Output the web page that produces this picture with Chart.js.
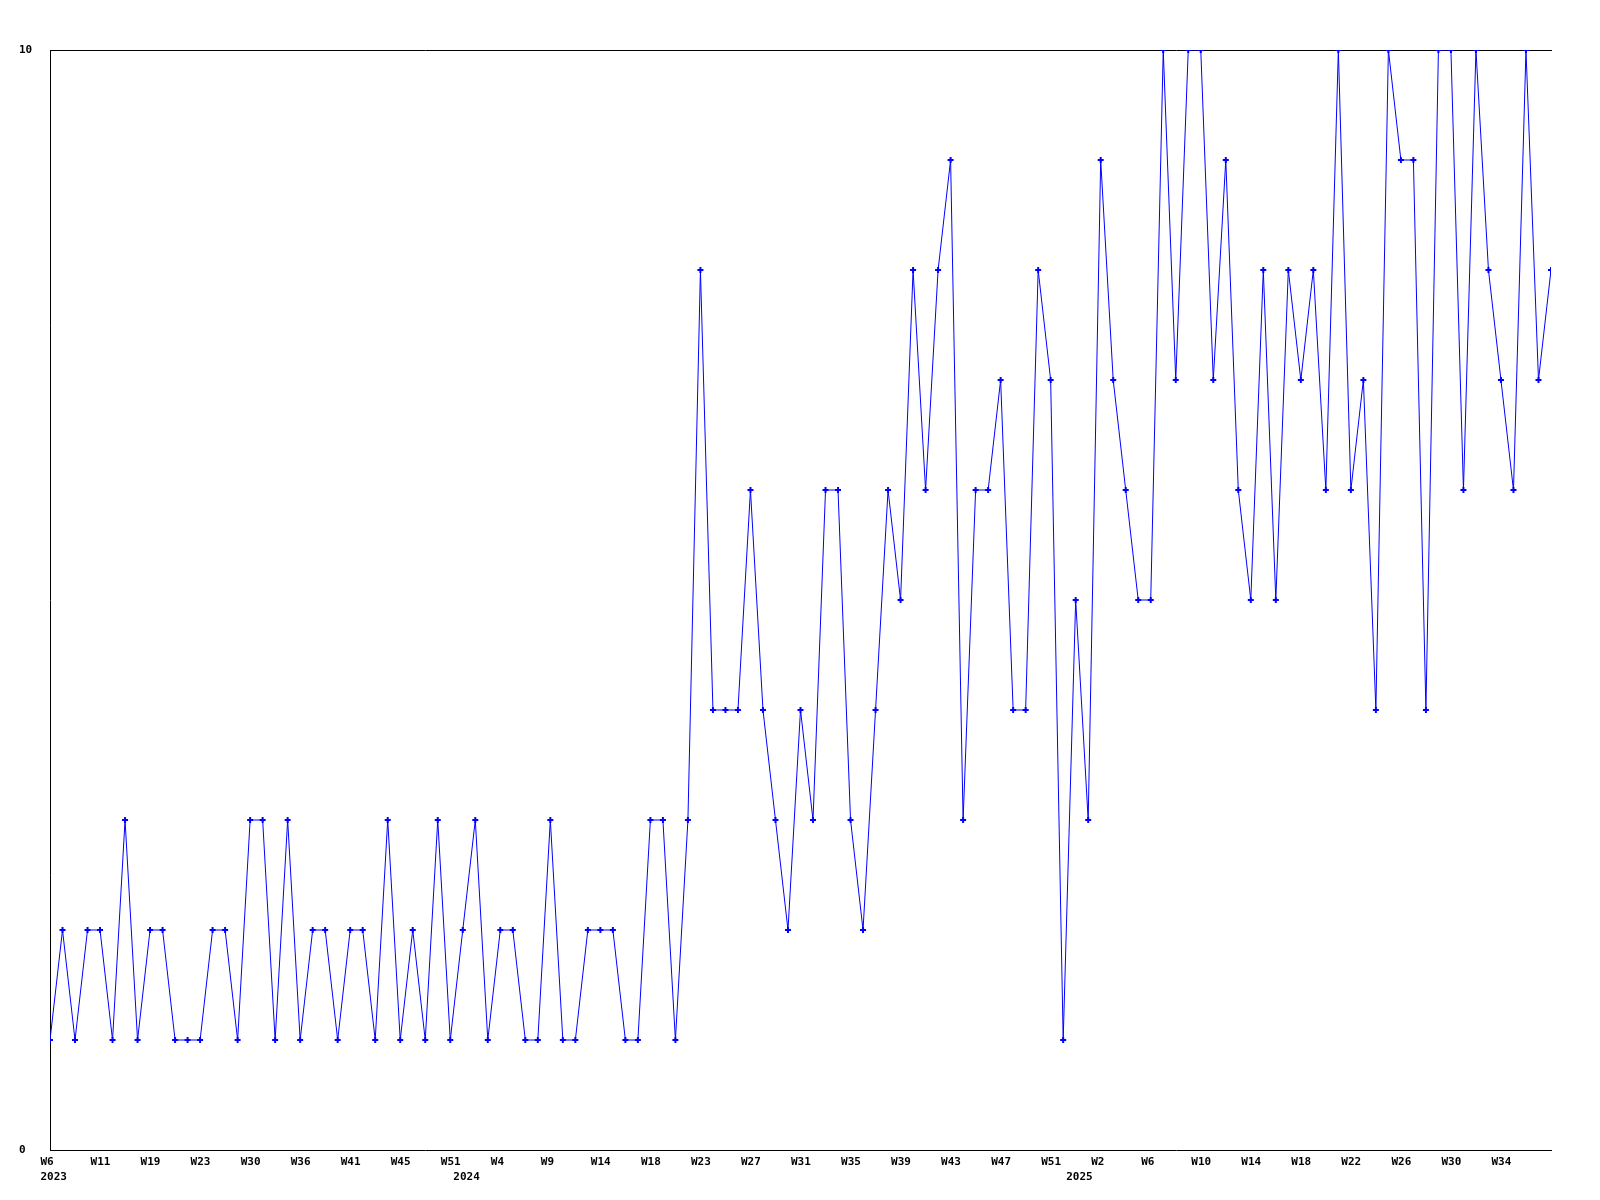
<!DOCTYPE html>
<html><head><meta charset="utf-8">
<script src="https://cdn.jsdelivr.net/npm/chart.js@4.4.1/dist/chart.umd.min.js"></script>
<style>html,body{margin:0;padding:0;background:#fff}#wrap{width:1600px;height:1200px}</style>
</head><body><div id="wrap"><canvas id="c" width="1600" height="1200"></canvas></div>
<script>
// Weekly values (121 points)
const values = [
  1,2,1,2,2,1,3,1,2,2,
  1,1,1,2,2,1,3,3,1,3,
  1,2,2,1,2,2,1,3,1,2,
  1,3,1,2,3,1,2,2,1,1,
  3,1,1,2,2,2,1,1,3,3,
  1,3,8,4,4,4,6,4,3,2,
  4,3,6,6,3,2,4,6,5,8,
  6,8,9,3,6,6,7,4,4,8,
  7,1,5,3,9,7,6,5,5,10,
  7,10,10,7,9,6,5,8,5,8,
  7,8,6,10,6,7,4,10,9,9,
  4,10,10,6,10,8,7,6,10,7,8
];
// X tick labels and the point index each one sits at
const weekTickLabels = ['W6','W11','W19','W23','W30','W36','W41','W45','W51',
  'W4','W9','W14','W18','W23','W27','W31','W35','W39','W43','W47','W51',
  'W2','W6','W10','W14','W18','W22','W26','W30','W34'];
const weekTickPos = [0,4,8,12,16,20,24,28,32,
  36,40,44,48,52,56,60,64,68,72,76,80,
  84,88,92,96,100,104,108,112,116];
const yearLabels = ['2023','2024','2025'];
const yearTickPos = [0,33,82];
const yTicks = [0,10];

// Build combined tick list
const ticksAll = [];
weekTickPos.forEach((p,i)=>ticksAll.push({value:p, label:[weekTickLabels[i]]}));
yearTickPos.forEach((p,i)=>{
  const same = ticksAll.find(t=>Math.abs(t.value-p)<0.05);
  if (same) same.label.push(yearLabels[i]);
  else ticksAll.push({value:p, label:['', yearLabels[i]]});
});
ticksAll.sort((a,b)=>a.value-b.value);

const points = values.map((v,i)=>({x:i, y:v}));
const font = {family:'DejaVu Sans Mono', weight:'bold', size:11, lineHeight:'15px'};

new Chart(document.getElementById('c'), {
  type:'line',
  data:{datasets:[{
    data:points,
    borderColor:'#0000ff',
    backgroundColor:'#0000ff',
    borderWidth:1,
    tension:0,
    fill:false,
    pointStyle:'cross',
    pointRadius:3,
    pointBorderWidth:2,
    pointBorderColor:'#0000ff',
    pointHoverRadius:3
  }]},
  options:{
    responsive:false,
    animation:false,
    devicePixelRatio:1,
    events:[],
    layout:{padding:{left:19,right:49,top:50,bottom:0}},
    plugins:{legend:{display:false},tooltip:{enabled:false}},
    scales:{
      x:{
        type:'linear', position:'bottom', min:0, max:120,
        grid:{display:false, drawTicks:false},
        border:{display:true, color:'#000', width:1},
        ticks:{autoSkip:false, maxRotation:0, minRotation:0, align:'start', labelOffset:-9.5,
          padding:5, color:'#000', font:font,
          callback:(v,i)=>ticksAll[i] ? ticksAll[i].label : ''},
        afterBuildTicks:s=>{ s.ticks = ticksAll.map(t=>({value:t.value})); },
        afterFit:s=>{ s.height = 50; }
      },
      x2:{
        type:'linear', position:'top', min:0, max:120, display:true,
        grid:{display:false, drawTicks:false},
        border:{display:true, color:'#000', width:1},
        ticks:{display:false},
        afterFit:s=>{ s.height = 0; }
      },
      y:{
        type:'linear', position:'left', min:0, max:10,
        grid:{display:false, drawTicks:false},
        border:{display:true, color:'#000', width:1},
        ticks:{crossAlign:'far', color:'#000', font:font, padding:4},
        afterBuildTicks:s=>{ s.ticks = yTicks.map(v=>({value:v})); },
        afterFit:s=>{ s.width = 31; }
      }
    }
  }
});
</script></body></html>
